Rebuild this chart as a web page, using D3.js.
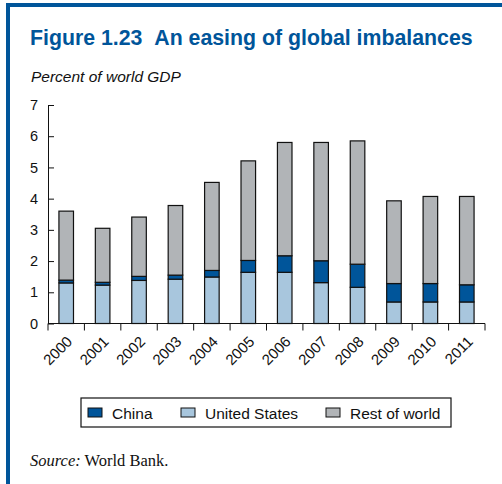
<!DOCTYPE html>
<html><head><meta charset="utf-8">
<script src="https://cdn.jsdelivr.net/npm/d3@7"></script>
<style>
body{margin:0;background:#fff;}
svg{display:block;}
</style></head>
<body>
<svg id="chart" width="502" height="484"></svg>
<script>
const years = ["2000","2001","2002","2003","2004","2005","2006","2007","2008","2009","2010","2011"];
const unitedStates = [1.30,1.23,1.38,1.42,1.49,1.64,1.64,1.31,1.16,0.69,0.69,0.69];
const china        = [0.09,0.09,0.13,0.13,0.21,0.38,0.53,0.70,0.74,0.59,0.59,0.55];
const restOfWorld  = [2.21,1.73,1.90,2.23,2.82,3.19,3.63,3.79,3.95,2.65,2.79,2.83];
const yTicks = [0,1,2,3,4,5,6,7];
const seriesNames = ["United States","China","Rest of world"];
const legendOrder = ["China","United States","Rest of world"];
const colors = {"China":"#00559a","United States":"#a8c6dd","Rest of world":"#b1b4b7"};

const svg = d3.select("#chart");
const blue = "#00559a";
const sans = "Liberation Sans, Arial, sans-serif";

// frame
svg.append("rect").attr("x",6).attr("y",3).attr("width",496).attr("height",4).attr("fill",blue);
svg.append("rect").attr("x",6).attr("y",3).attr("width",4).attr("height",481).attr("fill",blue);

svg.append("text").attr("x",30).attr("y",45)
  .attr("font-family",sans).attr("font-weight","bold")
  .attr("font-size",21.3).attr("fill",blue)
  .text("Figure 1.23\u00a0\u00a0An easing of global imbalances");

svg.append("text").attr("x",31).attr("y",82)
  .attr("font-family",sans).attr("font-style","italic")
  .attr("font-size",15.5).attr("fill","#111")
  .text("Percent of world GDP");

const x = d3.scaleBand().domain(years).range([48,485]).paddingInner(0.6).paddingOuter(0.3);
const y = d3.scaleLinear().domain([0,7]).range([323.5,105]);

const data = years.map((yr,i)=>({year:yr,"United States":unitedStates[i],"China":china[i],"Rest of world":restOfWorld[i]}));
const stack = d3.stack().keys(seriesNames)(data);

const g = svg.append("g");
stack.forEach(s=>{
  g.selectAll(null).data(s).enter().append("rect")
    .attr("x",d=>x(d.data.year))
    .attr("width",x.bandwidth())
    .attr("y",d=>y(d[1]))
    .attr("height",d=>y(d[0])-y(d[1]))
    .attr("fill",colors[s.key])
    .attr("stroke","#111").attr("stroke-width",1.2);
});

// y axis
const yAxis = d3.axisLeft(y).tickValues(yTicks).tickSizeInner(-6).tickSizeOuter(0).tickPadding(10).tickFormat(d3.format("d"));
const ya = svg.append("g").attr("transform","translate(48,0)").call(yAxis);
ya.select(".domain").attr("stroke","#111");
ya.selectAll(".tick line").attr("stroke","#111");
ya.selectAll("text").attr("font-family",sans).attr("font-size",14.5).attr("fill","#111");

// x axis with ticks at band boundaries
const xa = svg.append("g").attr("transform","translate(0,323.5)");
xa.append("line").attr("x1",48).attr("x2",485).attr("stroke","#111");
const bounds = d3.range(years.length+1).map(i=>48+i*(437/years.length));
xa.selectAll(null).data(bounds).enter().append("line")
  .attr("x1",d=>d).attr("x2",d=>d).attr("y1",0).attr("y2",7).attr("stroke","#111");
xa.selectAll(null).data(years).enter().append("text")
  .attr("transform",d=>`translate(${x(d)+x.bandwidth()/2+7},19) rotate(-45)`)
  .attr("text-anchor","end")
  .attr("font-family",sans).attr("font-size",15).attr("fill","#111")
  .text(d=>d);

// legend
const lg = svg.append("g");
lg.append("rect").attr("x",81).attr("y",398).attr("width",370).attr("height",29)
  .attr("fill","#fff").attr("stroke","#111").attr("stroke-width",1.2);
const legX = {"China":88,"United States":181,"Rest of world":326};
legendOrder.forEach(k=>{
  lg.append("rect").attr("x",legX[k]).attr("y",408).attr("width",14).attr("height",9)
    .attr("fill",colors[k]).attr("stroke","#111").attr("stroke-width",1);
  lg.append("text").attr("x",legX[k]+24).attr("y",418.5)
    .attr("font-family",sans).attr("font-size",15.5).attr("fill","#111")
    .text(k);
});

// source
const src = svg.append("text").attr("x",30).attr("y",466)
  .attr("font-family","Liberation Serif, Times New Roman, serif").attr("font-size",16.5).attr("fill","#111");
src.append("tspan").attr("font-style","italic").text("Source:");
src.append("tspan").text(" World Bank.");
</script>
</body></html>
